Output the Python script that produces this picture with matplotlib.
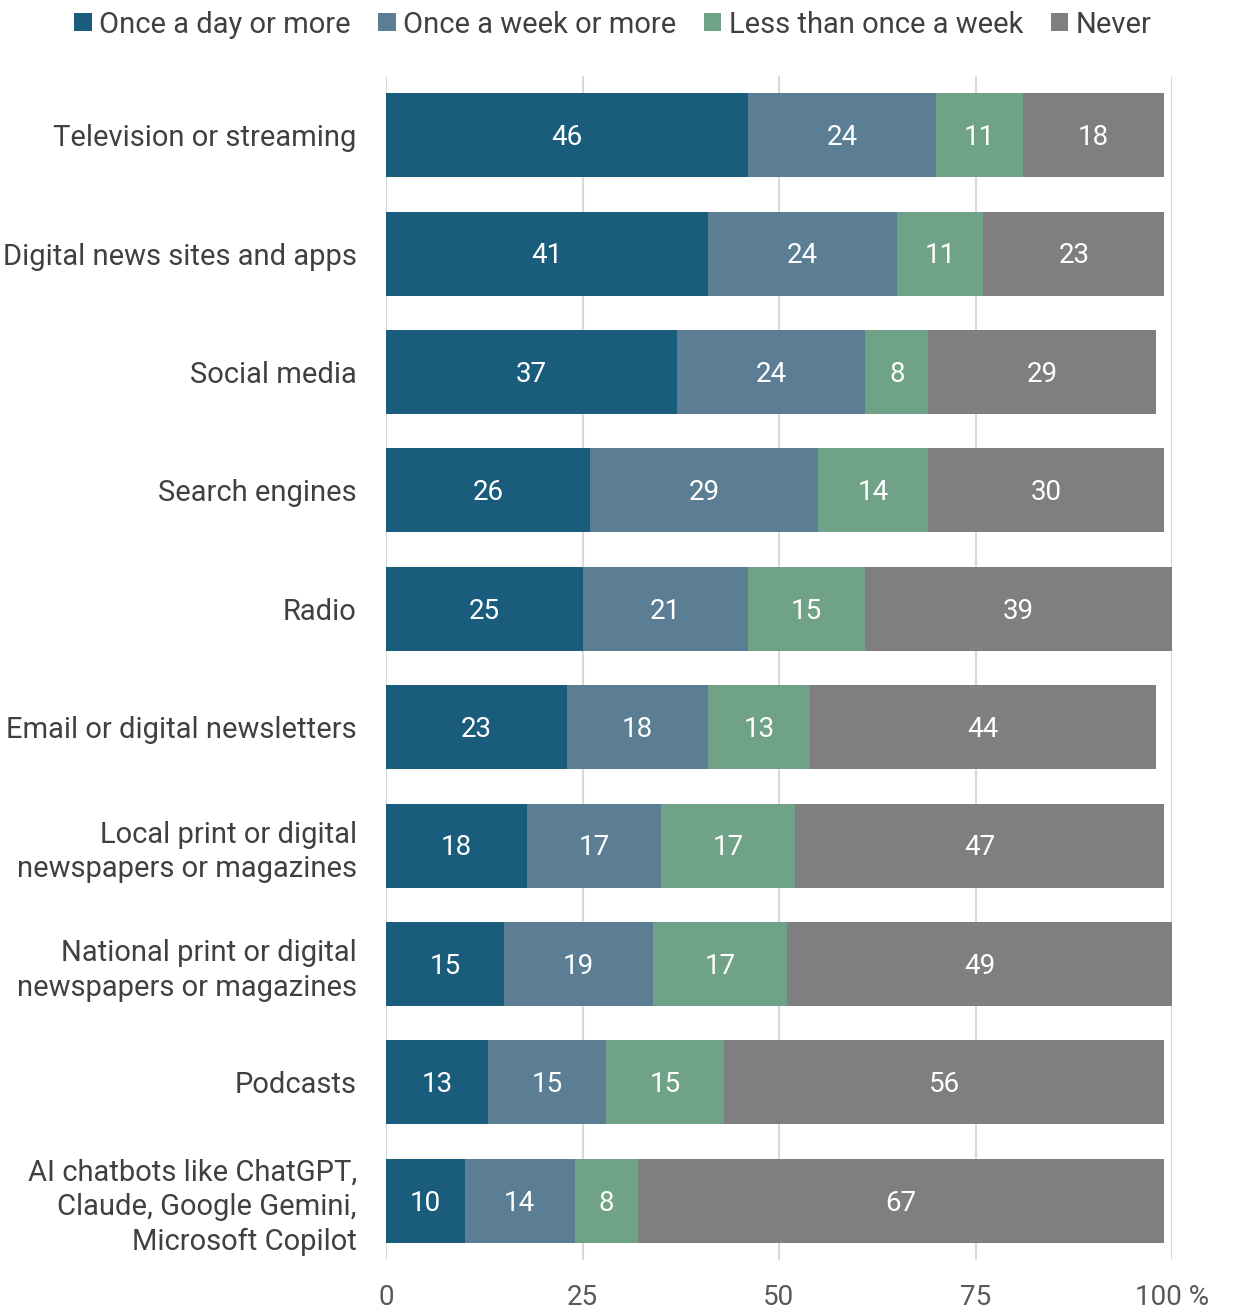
import numpy as np
import matplotlib.pyplot as plt
from matplotlib.patches import Patch

plt.rcParams['font.family'] = ['Roboto', 'DejaVu Sans']

categories = [
    "Television or streaming",
    "Digital news sites and apps",
    "Social media",
    "Search engines",
    "Radio",
    "Email or digital newsletters",
    "Local print or digital\nnewspapers or magazines",
    "National print or digital\nnewspapers or magazines",
    "Podcasts",
    "AI chatbots like ChatGPT,\nClaude, Google Gemini,\nMicrosoft Copilot",
]
daily = [46, 41, 37, 26, 25, 23, 18, 15, 13, 10]
weekly = [24, 24, 24, 29, 21, 18, 17, 19, 15, 14]
less = [11, 11, 8, 14, 15, 13, 17, 17, 15, 8]
never = [18, 23, 29, 30, 39, 44, 47, 49, 56, 67]

series_names = ["Once a day or more", "Once a week or more", "Less than once a week", "Never"]
colors = ["#195c7b", "#5b7e94", "#6fa286", "#7f7f7f"]
ticks = [0, 25, 50, 75, 100]
tick_labels = ["0", "25", "50", "75", "100 %"]

fig = plt.figure(figsize=(12.33, 13.11), dpi=100)
ax = fig.add_axes([386 / 1233, 1 - 1260 / 1311, (1172 - 386) / 1233, (1260 - 76) / 1311])

y = np.arange(len(categories))
left = np.zeros(len(categories))
for vals, col in zip([daily, weekly, less, never], colors):
    vals = np.array(vals)
    ax.barh(y, vals, left=left, height=0.71, color=col, zorder=3)
    for yi, l, v in zip(y, left, vals):
        ax.text(l + v / 2, yi + 0.02, str(v), ha='center', va='center',
                color='white', fontsize=20, zorder=4)
    left = left + vals

ax.set_xlim(0, 100)
ax.set_ylim(len(categories) - 0.5, -0.5)
ax.set_xticks(ticks)
ax.set_xticklabels(tick_labels, fontsize=20, color='#595959')
ax.set_yticks(y)
ax.set_yticklabels(categories, fontsize=21, color='#404040', linespacing=1.3)
ax.tick_params(axis='both', length=0)
ax.tick_params(axis='x', pad=17)
ax.tick_params(axis='y', pad=21)
ax.xaxis.grid(True, color='#d9d9d9', linewidth=1.5, zorder=0)
ax.set_axisbelow(True)
for s in ax.spines.values():
    s.set_visible(False)

handles = [Patch(facecolor=c, edgecolor='none') for c in colors]
fig.legend(handles, series_names, loc='upper center', bbox_to_anchor=(0.497, 1.012),
           ncol=4, frameon=False, fontsize=21, handlelength=0.6, handleheight=0.6,
           handletextpad=0.25, columnspacing=0.95, labelcolor='#404040')

fig.savefig("out.png", dpi=100)
